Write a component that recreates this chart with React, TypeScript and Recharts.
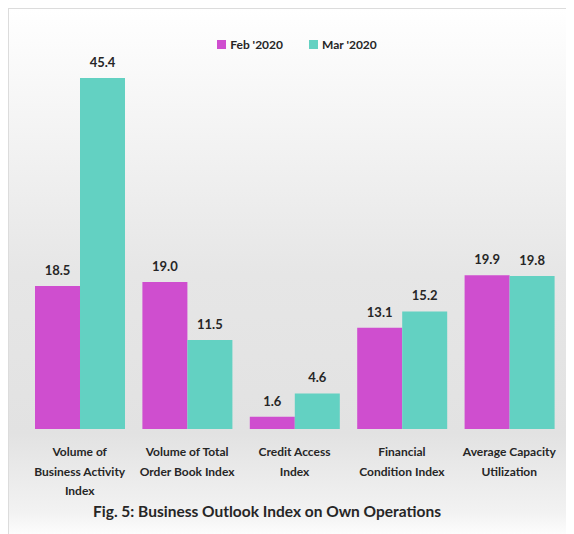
import React from "react";
import { BarChart, Bar, XAxis, YAxis, Legend, LabelList } from "recharts";

const categories = [
  "Volume of Business Activity Index",
  "Volume of Total Order Book Index",
  "Credit Access Index",
  "Financial Condition Index",
  "Average Capacity Utilization",
];
const tickLines = [
  ["Volume of", "Business Activity", "Index"],
  ["Volume of Total", "Order Book Index"],
  ["Credit Access", "Index"],
  ["Financial", "Condition Index"],
  ["Average Capacity", "Utilization"],
];
const feb2020 = [18.5, 19.0, 1.6, 13.1, 19.9];
const mar2020 = [45.4, 11.5, 4.6, 15.2, 19.8];

const data = categories.map((name, i) => ({ name, feb: feb2020[i], mar: mar2020[i], idx: i }));

const FONT = "Lato, 'Open Sans', sans-serif";

const CategoryTick = (props: any) => {
  const { x, y, index } = props;
  const lines = tickLines[index] || [];
  return (
    <g transform={`translate(${x},${y})`}>
      {lines.map((ln, i) => (
        <text
          key={i}
          x={0}
          y={19 + i * 19.5}
          textAnchor="middle"
          fontSize={12}
          fontWeight={700}
          fill="#262626"
          fontFamily={FONT}
        >
          {ln}
        </text>
      ))}
    </g>
  );
};

export default function App() {
  return (
    <div
      style={{
        position: "relative",
        width: 570,
        height: 530,
        border: "1px solid #dcdcdc",
        background:
          "linear-gradient(180deg, #ffffff 0%, #f6f6f6 18%, #e6e6e6 50%, #e2e2e2 80%, #f2f2f2 95%, #ffffff 100%)",
        fontFamily: FONT,
      }}
    >
      <BarChart
        width={566}
        height={500}
        data={data}
        margin={{ top: 50, right: 12, left: 17, bottom: 0 }}
        barGap={0}
        barCategoryGap={9}
      >
        <XAxis
          dataKey="name"
          axisLine={false}
          tickLine={false}
          tick={<CategoryTick />}
          height={80}
          interval={0}
        />
        <YAxis hide domain={[0, 45.4]} />
        <Legend
          verticalAlign="top"
          align="center"
          iconType="square"
          iconSize={9}
          wrapperStyle={{ top: 24, left: 18, width: 566 }}
          formatter={(value: any) => (
            <span style={{ color: "#262626", fontSize: 12, fontWeight: 700, fontFamily: FONT, marginRight: 16 }}>
              {value}
            </span>
          )}
        />
        <Bar dataKey="feb" name="Feb '2020" fill="#cf4ecf" isAnimationActive={false}>
          <LabelList
            dataKey="feb"
            position="top"
            offset={11}
            formatter={(v: any) => Number(v).toFixed(1)}
            style={{ fontSize: 13, fontWeight: 700, fill: "#262626", fontFamily: FONT }}
          />
        </Bar>
        <Bar dataKey="mar" name="Mar '2020" fill="#63d1c2" isAnimationActive={false}>
          <LabelList
            dataKey="mar"
            position="top"
            offset={11}
            formatter={(v: any) => Number(v).toFixed(1)}
            style={{ fontSize: 13, fontWeight: 700, fill: "#262626", fontFamily: FONT }}
          />
        </Bar>
      </BarChart>
      <div
        style={{
          position: "absolute",
          left: 0,
          top: 493,
          width: 516,
          textAlign: "center",
          fontSize: 15.5,
          fontWeight: 700,
          color: "#262626",
        }}
      >
        Fig. 5: Business Outlook Index on Own Operations
      </div>
    </div>
  );
}
